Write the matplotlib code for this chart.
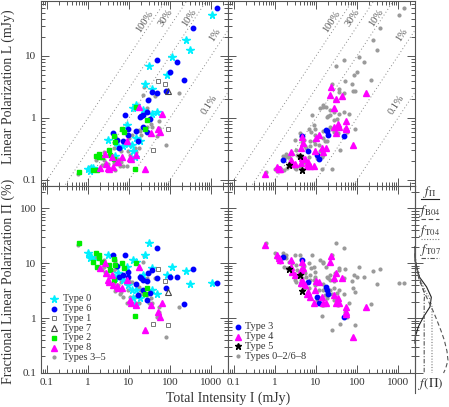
import numpy as np
import matplotlib
matplotlib.use('Agg')
import matplotlib.pyplot as plt
from matplotlib.ticker import LogLocator, FuncFormatter, NullFormatter
from matplotlib.lines import Line2D

plt.rcParams['font.family'] = ['Liberation Serif', 'DejaVu Serif']
plt.rcParams['mathtext.fontset'] = 'stix'

# ---------------- data: total intensity I (mJy) and fractional polarization P (%) ----------
I_t0 = [1.0, 1.2, 1.35, 1.1, 3.1, 30, 25, 12.7, 15, 8.8, 5.5, 7.3, 9.6, 11.6, 12.7, 14, 18.6,
        36, 47, 83, 110, 250, 300, 1070, 22.5, 4.6, 15, 36]
P_t0 = [15, 13, 11.5, 12.5, 14, 23, 14, 11.3, 10.6, 8.6, 6.5, 4.9, 4.0, 3.2, 2.3, 1.7, 2.3,
        3.2, 2.7, 6.0, 8.6, 7.3, 4.1, 4.3, 6.0, 5.3, 3.2, 8.2]
I_t6 = [4.1, 8, 5, 5.8, 9.6, 9.6, 18.6, 20, 22.5, 29.5, 36, 47, 27, 15, 22.5, 33, 28, 16.6,
        47, 100, 145, 78, 225, 370, 1380, 7]
P_t6 = [13.8, 13.8, 8.8, 5.6, 7, 5.5, 5.5, 5.3, 4.9, 6.5, 7.4, 5.4, 4.7, 4.1, 3.2, 2.9, 2.1, 2.6,
        18.5, 5.5, 5.6, 3.5, 1.8, 7.7, 4.3, 6.0]
I_t1 = [52, 75, 39, 90]
P_t1 = [7.7, 4.7, 0.77, 0.75]
I_t7 = [91]
P_t7 = [3.0]
I_t2 = [0.6, 1.6, 1.85, 1.35, 1.7, 1.9, 2.2, 3.4, 4.3, 4.5, 6.6, 7.5, 3.3, 4.4, 27, 14, 25, 15]
P_t2 = [22.8, 15, 14, 10.6, 8.6, 12.2, 10.6, 7.5, 11.7, 9.2, 10.1, 8.0, 9.2, 4.9, 3.5, 1.08, 2.7, 10]
I_t8 = [2.6, 1.96, 2.75, 3.1, 3.3, 4.1, 5.5, 6.6, 8.8, 10.6, 11.5, 15, 17.8, 34, 63, 52, 57, 25, 3.9, 5.2]
P_t8 = [10.1, 8.0, 6.5, 5.0, 4.6, 4.0, 3.6, 3.5, 4.9, 2.1, 1.9, 1.7, 8.6, 1.7, 1.85, 1.3, 1.05, 0.6, 6.0, 3.8]
I_t3 = [1.6, 4.6, 6.4, 17.5, 19, 20, 10.6, 11.6, 48]
P_t3 = [13, 11.3, 4.6, 3.7, 3.2, 2.7, 2.4, 1.9, 1.06]
I_t4 = [0.57, 1.14, 1.25, 1.35, 2.5, 2.4, 2.6, 3.0, 4.6, 4.8, 4.4, 4.6, 4.3, 5.5, 6.1, 7.1, 8.8,
        9.3, 10, 13.9, 15.1, 17.5, 23.5, 22, 27, 30, 28, 30, 35, 37, 42, 55, 54, 55, 79, 165, 6.5, 12]
P_t4 = [21.8, 14, 12.2, 11.3, 11.3, 8.6, 7, 6, 10.6, 8.3, 7.5, 4.9, 4.3, 4.0, 2.8, 2.4, 1.9,
        3.2, 4.7, 2.4, 1.9, 1.85, 13.4, 10.6, 5.3, 6.7, 2.6, 1.9, 2.3, 1.9, 5.3, 1.6, 1.3, 1.2, 0.46, 1.56, 3.0, 4.5]
I_t5 = [2.2, 4.0, 4.6]
P_t5 = [7.8, 6.0, 3.1]

pct_values = [1.0, 0.3, 0.1, 0.01, 0.001]
pct_labels = ['100%', '30%', '10%', '1%', '0.1%']
pct_label_I = [24.6, 79, 289, 1240, 940]
pct_label_L = [35.2, 41, 41, 21.8, 1.62]

# distribution curves f(P) in the side strip
fpi_P = [20, 11, 5.6, 3.7, 2.4, 1.6, 1.05, 0.7, 0.46, 0.35]
fpi_f = [0.0, 0.0, 0.13, 0.34, 0.48, 0.44, 0.25, 0.1, 0.01, 0.0]
fB04_P = [15, 10, 5, 3, 2, 1.4, 1, 0.6, 0.4, 0.25, 0.17, 0.12, 0.1]
fB04_f = [0.0, 0.02, 0.12, 0.27, 0.4, 0.52, 0.62, 0.76, 0.86, 0.94, 0.97, 0.9, 0.84]
fT04_P = [15, 10, 6, 4, 3, 2.2, 1.6, 1.0, 0.5, 0.1]
fT04_f = [0.0, 0.03, 0.1, 0.22, 0.32, 0.44, 0.5, 0.5, 0.5, 0.5]
fT07_P = [15, 10, 6, 4, 3, 2.5, 2.1, 1.5, 1.0, 0.1]
fT07_f = [0.0, 0.03, 0.1, 0.2, 0.26, 0.28, 0.27, 0.27, 0.27, 0.27]

XLIM = (0.0714, 2600)
YLIM_L = (0.08, 77)
YLIM_P = (0.1, 254)

W, H = 449, 407
fig = plt.figure(figsize=(W / 100, H / 100), dpi=100)


def px_axes(x0, y0, x1, y1):
    return fig.add_axes([x0 / W, 1 - y1 / H, (x1 - x0) / W, (y1 - y0) / H])


ax_tl = px_axes(41, 1, 228, 186)
ax_tr = px_axes(228, 1, 415, 186)
ax_bl = px_axes(41, 186, 228, 373)
ax_br = px_axes(228, 186, 415, 373)
ax_f = px_axes(415, 186, 449, 373)

SP = '#555555'
TXT = '#333333'
fmt = FuncFormatter(lambda v, p: f'{v:g}')

for ax in [ax_tl, ax_tr, ax_bl, ax_br]:
    ax.set_xscale('log')
    ax.set_yscale('log')
    ax.set_xlim(XLIM)
    for s in ax.spines.values():
        s.set_color(SP)
        s.set_linewidth(0.8)
    ax.tick_params(which='both', direction='in', top=True, right=True, colors=SP,
                   labelcolor=TXT, labelsize=8, width=0.7)
    ax.tick_params(which='major', length=6, pad=3.5)
    ax.tick_params(which='minor', length=3)
    for axis in [ax.xaxis, ax.yaxis]:
        axis.set_major_locator(LogLocator(base=10, numticks=12))
        axis.set_minor_locator(LogLocator(base=10, subs=np.arange(2, 10), numticks=12))
        axis.set_major_formatter(fmt)
        axis.set_minor_formatter(NullFormatter())

for ax in [ax_tl, ax_tr]:
    ax.set_ylim(YLIM_L)
    ax.tick_params(labelbottom=False)
for ax in [ax_bl, ax_br]:
    ax.set_ylim(YLIM_P)
for ax in [ax_tr, ax_br]:
    ax.tick_params(labelleft=False)

CYAN = '#00F0FF'
BLUE = '#0000FF'
GREEN = '#00EE00'
MAG = '#FF00FF'
GREY = '#9A9A9A'

left_types = [
    ('Type 0', I_t0, P_t0, dict(marker='*', ms=5.5, color=CYAN, mec=CYAN)),
    ('Type 6', I_t6, P_t6, dict(marker='o', ms=3.2, color=BLUE, mec=BLUE)),
    ('Type 1', I_t1, P_t1, dict(marker='s', ms=3.3, mfc='none', mec='#777777', mew=0.7)),
    ('Type 7', I_t7, P_t7, dict(marker='^', ms=4.0, mfc='none', mec='#444444', mew=0.8)),
    ('Type 2', I_t2, P_t2, dict(marker='s', ms=3.0, color=GREEN, mec=GREEN)),
    ('Type 8', I_t8, P_t8, dict(marker='^', ms=4.0, color=MAG, mec=MAG)),
]
right_types = [
    ('Type 3', I_t3, P_t3, dict(marker='o', ms=3.2, color=BLUE, mec=BLUE)),
    ('Type 4', I_t4, P_t4, dict(marker='^', ms=4.0, color=MAG, mec=MAG)),
    ('Type 5', I_t5, P_t5, dict(marker='*', ms=5.0, color='black', mec='black')),
]
grey_style = dict(marker='o', ms=2.0, color=GREY, mec=GREY)


def Lof(I, P):
    return np.asarray(I) * np.asarray(P) / 100.0


def draw(ax_top, ax_bot, grey_sets, color_sets):
    for I, P in grey_sets:
        ax_top.plot(I, Lof(I, P), ls='none', **grey_style)
        ax_bot.plot(I, P, ls='none', **grey_style)
    for name, I, P, st in color_sets:
        ax_top.plot(I, Lof(I, P), ls='none', **st)
        ax_bot.plot(I, P, ls='none', **st)


draw(ax_tl, ax_bl, [(I_t3, P_t3), (I_t4, P_t4), (I_t5, P_t5)], left_types)
draw(ax_tr, ax_br, [(t[1], t[2]) for t in left_types], right_types)

# percentage lines
Ig = np.logspace(np.log10(XLIM[0]), np.log10(XLIM[1]), 50)
for ax in [ax_tl, ax_tr]:
    p1 = ax.transData.transform((1, 1))
    p2 = ax.transData.transform((10, 10))
    ang = np.degrees(np.arctan2(p2[1] - p1[1], p2[0] - p1[0]))
    for p, lab, li, ll in zip(pct_values, pct_labels, pct_label_I, pct_label_L):
        ax.plot(Ig, p * Ig, ls=(0, (1, 2.5)), color='#888888', lw=0.7, zorder=0)
        ax.text(li, ll, lab, rotation=ang, rotation_mode='anchor', ha='center', va='center',
                fontsize=7.5, color='#555555')

# legends
def legend(ax, entries, xm, xt, y0, dy):
    for k, (name, st) in enumerate(entries):
        y = y0 - k * dy
        ax.plot([xm], [y], transform=ax.transAxes, clip_on=False, ls='none', **st)
        ax.text(xt, y, name, transform=ax.transAxes, va='center', ha='left', fontsize=7.5, color=TXT)


legend(ax_bl, [(t[0], t[3]) for t in left_types] + [('Types 3\u20135', grey_style)],
       0.07, 0.118, 0.396, 0.052)
legend(ax_br, [(t[0], t[3]) for t in right_types] + [('Types 0\u20132/6\u20138', grey_style)],
       0.053, 0.091, 0.246, 0.052)

# side strip
ax_f.set_yscale('log')
ax_f.set_ylim(YLIM_P)
ax_f.set_xlim(0, 1)
for k in ['top', 'right', 'bottom']:
    ax_f.spines[k].set_visible(False)
ax_f.spines['left'].set_color(SP)
ax_f.spines['left'].set_linewidth(0.8)
ax_f.patch.set_alpha(0)
ax_f.set_xticks([])
ax_f.yaxis.set_major_locator(LogLocator(base=10, numticks=12))
ax_f.yaxis.set_minor_locator(LogLocator(base=10, subs=np.arange(2, 10), numticks=12))
ax_f.yaxis.set_major_formatter(NullFormatter())
ax_f.yaxis.set_minor_formatter(NullFormatter())
ax_f.tick_params(which='both', direction='in', left=True, right=False, colors=SP, width=0.7)
ax_f.tick_params(which='major', length=6)
ax_f.tick_params(which='minor', length=3)

curve_styles = [
    (fpi_P, fpi_f, dict(ls='-', color='#222222', lw=0.8)),
    (fB04_P, fB04_f, dict(ls=(0, (4, 2.5)), color='#555555', lw=0.8)),
    (fT04_P, fT04_f, dict(ls=(0, (1, 1.5)), color='#777777', lw=0.8)),
    (fT07_P, fT07_f, dict(ls=(0, (4, 1.5, 1, 1.5)), color='#555555', lw=0.8)),
]
for P, f, st in curve_styles:
    ax_f.plot(f, P, clip_on=False, **st)

fig.add_artist(Line2D([415 / W, 415 / W], [1 - 373 / H, 1 - 393 / H], color=SP, lw=0.8))

leg_names = [r'$f_{\Pi}$', r'$f_{\rm B04}$', r'$f_{\rm T04}$', r'$f_{\rm T07}$']
leg_text_y = [192, 211, 231, 250]
for name, ty, (_, _, st) in zip(leg_names, leg_text_y, curve_styles):
    fig.text(430 / W, 1 - ty / H, name, ha='center', va='center', fontsize=9, color=TXT)
    fig.add_artist(Line2D([421 / W, 439 / W], [1 - (ty + 7.5) / H] * 2, **st))
fig.text(431 / W, 1 - 384 / H, r'$f(\Pi)$', ha='center', va='center', fontsize=9.5, color=TXT)

# axis labels
fig.text(8 / W, 1 - 87 / H, 'Linear Polarization L (mJy)', rotation=90, ha='center', va='center',
         fontsize=10, color=TXT)
fig.text(8 / W, 1 - 281 / H, 'Fractional Linear Polarization \u03a0 (%)', rotation=90, ha='center',
         va='center', fontsize=10, color=TXT)
fig.text(228 / W, 1 - 398 / H, 'Total Intensity I (mJy)', ha='center', va='center', fontsize=10, color=TXT)

fig.savefig('out.png', dpi=100)
